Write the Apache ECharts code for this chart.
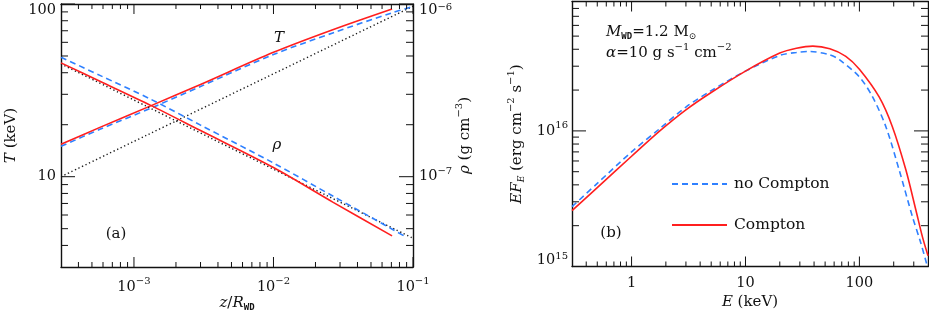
<!DOCTYPE html>
<html><head><meta charset="utf-8">
<script src="https://cdn.jsdelivr.net/npm/echarts@6/dist/echarts.min.js"></script>
<style>html,body{margin:0;padding:0;background:#fff}#c{width:929px;height:314px}</style>
</head><body><div id="c"></div>
<script>
// ---------- Panel (a): T and rho versus z / R_WD ----------
const zTCompton   = [3e-4, 5.7e-4, 1.33e-3, 3e-3, 1e-2, 2.66e-2, 7.08e-2];
const tCompton    = [15.4, 19.3, 25.8, 34.2, 52.5, 71.0, 93.6];
const zTNoCompton = [3e-4, 5.7e-4, 1.33e-3, 3e-3, 1e-2, 2.66e-2, 7.0e-2, 9.7e-2];
const tNoCompton  = [15.0, 18.8, 25.0, 33.3, 51.0, 68.0, 88.7, 96.0];
const zTAnalytic  = [3e-4, 1e-1];
const tAnalytic   = [10, 97];

const zRhoCompton   = [3e-4, 5.7e-4, 1.33e-3, 3e-3, 1e-2, 2.66e-2, 7.08e-2];
const rhoCompton    = [4.56e-7, 3.57e-7, 2.58e-7, 1.85e-7, 1.13e-7, 7.13e-8, 4.54e-8];
const zRhoNoCompton = [3e-4, 5.7e-4, 1.33e-3, 3e-3, 1e-2, 2.66e-2, 7.0e-2, 8.6e-2];
const rhoNoCompton  = [4.92e-7, 3.86e-7, 2.8e-7, 1.99e-7, 1.2e-7, 7.73e-8, 5.0e-8, 4.55e-8];
const zRhoAnalytic  = [3e-4, 1e-1];
const rhoAnalytic   = [4.5e-7, 4.4e-8];

// ---------- Panel (b): spectra ----------
const eCompton   = [0.3, 0.5, 1, 1.77, 3, 5, 10, 20, 28, 39, 55, 76, 100, 149, 195, 256, 313, 357, 400];
const fCompton   = [2.58e15, 3.82e15, 6.5e15, 1.0e16, 1.43e16, 1.92e16, 2.76e16, 3.75e16, 4.07e16, 4.22e16, 4.04e16, 3.55e16, 2.85e16, 1.78e16, 1.07e16, 5.14e15, 2.61e15, 1.66e15, 1.2e15];
const eNoCompton = [0.3, 0.5, 1, 1.77, 3, 5, 10, 20, 28, 36.4, 54.5, 66.7, 100, 130.5, 171, 223.5, 292, 346, 395];
const fNoCompton = [2.76e15, 4.1e15, 7.0e15, 1.04e16, 1.5e16, 1.98e16, 2.76e16, 3.6e16, 3.79e16, 3.85e16, 3.65e16, 3.35e16, 2.5e16, 1.78e16, 1.07e16, 5.14e15, 2.33e15, 1.49e15, 1.0e15];

// ---------- ticks and tick labels ----------
const aXMajor = [1e-3, 1e-2, 1e-1];
const aXMinor = [4e-4,5e-4,6e-4,7e-4,8e-4,9e-4, 2e-3,3e-3,4e-3,5e-3,6e-3,7e-3,8e-3,9e-3, 2e-2,3e-2,4e-2,5e-2,6e-2,7e-2,8e-2,9e-2];
const aTMajor = [10, 100];
const aTMinor = [4,5,6,7,8,9, 20,30,40,50,60,70,80,90];
const aRhoMajor = [1e-7, 1e-6];
const aRhoMinor = [4e-8,5e-8,6e-8,7e-8,8e-8,9e-8, 2e-7,3e-7,4e-7,5e-7,6e-7,7e-7,8e-7,9e-7];
const bXMajor = [1, 10, 100];
const bXMinor = [0.4,0.5,0.6,0.7,0.8,0.9, 2,3,4,5,6,7,8,9, 20,30,40,50,60,70,80,90, 200,300];
const bYMajor = [1e15, 1e16];
const bYMinor = [2e15,3e15,4e15,5e15,6e15,7e15,8e15,9e15, 2e16,3e16,4e16,5e16,6e16,7e16,8e16];

const aXLabels = [1e-3, 1e-2, 1e-1];
const aTLabels = [10];        const aTEdgeLabels = [100];
const aRhoLabels = [1e-7];    const aRhoEdgeLabels = [1e-6];
const bXLabels = [1, 10, 100];
const bYLabels = [1e16];      const bYEdgeLabels = [1e15];

const FONT = 'DejaVu Serif';
const INK = '#111';
const RED = '#ff1f1f';
const BLUE = '#2f80ff';

const base = { fontFamily: FONT, color: INK };
const RICH = {
  b:  Object.assign({ fontSize: 14.5, lineHeight: 18 }, base),
  s:  Object.assign({ fontSize: 10, lineHeight: 10, padding: [0, 0, 11, 0] }, base),
  be: Object.assign({ fontSize: 14.5, lineHeight: 13 }, base),
  se: Object.assign({ fontSize: 10, lineHeight: 6, padding: [0, 0, 7, 0] }, base),
  i:  Object.assign({ fontSize: 15, fontStyle: 'italic', lineHeight: 18 }, base),
  n:  Object.assign({ fontSize: 15, lineHeight: 18 }, base),
  w:  { fontFamily: 'DejaVu Sans Mono', fontSize: 9, fontWeight: 'bold', lineHeight: 9, padding: [9, 0, 0, 0], color: INK },
  e:  Object.assign({ fontSize: 9, fontStyle: 'italic', lineHeight: 9, padding: [9, 0, 0, 0] }, base),
  o:  Object.assign({ fontSize: 9, lineHeight: 9, padding: [9, 0, 0, 0] }, base)
};

const pow10 = v => Math.round(Math.log10(v));
const expStr = v => String(pow10(v)).replace('-', '\u2212');
const fmtPow = v => '{b|10}{s|' + expStr(v) + '}';
const fmtPowEdge = v => '{be|10}{se|' + expStr(v) + '}';

// axis carrying data, frame line, name and labels
function logAxis(o) {
  return {
    type: 'log', logBase: 10, gridIndex: o.grid, position: o.pos, min: o.min, max: o.max,
    name: o.name || '', nameLocation: 'middle', nameGap: o.nameGap || 0, nameRotate: o.nameRotate || 0,
    nameMoveOverlap: false,
    nameTextStyle: { fontFamily: FONT, fontSize: 15, color: INK, rich: RICH },
    axisLine: { show: !!o.line, onZero: false, lineStyle: { color: INK, width: 1.4 } },
    axisTick: { show: false },
    axisLabel: o.labels ? {
      show: true, customValues: o.labels, formatter: o.fmt, margin: o.margin,
      verticalAlign: o.valign, fontFamily: FONT, fontSize: 14.5, color: INK, rich: RICH
    } : { show: false },
    splitLine: { show: false }, minorTick: { show: false }, minorSplitLine: { show: false }
  };
}

const xAxes = [
  logAxis({ grid: 0, pos: 'bottom', min: 3e-4, max: 1e-1, line: true, labels: aXLabels, fmt: fmtPow, margin: 11, valign: 'top',
            name: '{i|z}{n|/}{i|R}{w|WD}', nameGap: 27 }),
  logAxis({ grid: 0, pos: 'top', min: 3e-4, max: 1e-1, line: true }),
  logAxis({ grid: 1, pos: 'bottom', min: 0.3, max: 400, line: true, labels: bXLabels, fmt: v => '{b|' + v + '}', margin: 8, valign: 'top',
            name: '{i|E}{n| (keV)}', nameGap: 27 }),
  logAxis({ grid: 1, pos: 'top', min: 0.3, max: 400, line: true })
];

const yAxes = [
  logAxis({ grid: 0, pos: 'left', min: 3, max: 100, line: true, labels: aTLabels, margin: 5, valign: 'middle',
            fmt: v => '{b|' + Math.round(v) + '}',
            name: '{i|T}{n| (keV)}', nameGap: 41, nameRotate: 90 }),
  logAxis({ grid: 0, pos: 'right', min: 3e-8, max: 1e-6, line: true, labels: aRhoLabels, margin: 6, valign: 'middle',
            fmt: fmtPow,
            name: '{i|\u03c1}{n| (g cm}{s|\u22123}{n|)}', nameGap: 43, nameRotate: 90 }),
  logAxis({ grid: 1, pos: 'left', min: 1e15, max: 9e16, line: true, labels: bYLabels, margin: 4, valign: 'middle',
            fmt: fmtPow,
            name: '{i|EF}{e|E}{n| (erg cm}{s|\u22122}{n| s}{s|\u22121}{n|)}', nameGap: 46, nameRotate: 90 }),
  logAxis({ grid: 1, pos: 'right', min: 1e15, max: 9e16, line: true }),
  // labels sitting on the frame corners: hang them inside the frame's height
  logAxis({ grid: 0, pos: 'left', min: 3, max: 100, labels: aTEdgeLabels, margin: 5, valign: 'top', fmt: v => '{be|' + Math.round(v) + '}' }),
  logAxis({ grid: 0, pos: 'right', min: 3e-8, max: 1e-6, labels: aRhoEdgeLabels, margin: 6, valign: 'top', fmt: fmtPowEdge }),
  logAxis({ grid: 1, pos: 'left', min: 1e15, max: 9e16, labels: bYEdgeLabels, margin: 4, valign: 'bottom', fmt: fmtPowEdge })
];

const pairs = (xs, ys) => xs.map((x, k) => [x, ys[k]]);

function line(name, xi, yi, xs, ys, color, type, width) {
  return {
    name, type: 'line', xAxisIndex: xi, yAxisIndex: yi, data: pairs(xs, ys),
    symbol: 'none', showSymbol: false, smooth: 0.3, silent: true,
    lineStyle: { color, width, type }, itemStyle: { color }, z: 3
  };
}

// inward tick marks of the frame, placed through the axes' own log scales
// dim 'x': ticks on bottom & top edges; dim 'y': ticks on the given sides
function ticks(xi, yi, dim, values, len, anchor, sides) {
  return {
    type: 'custom', xAxisIndex: xi, yAxisIndex: yi, silent: true, z: 5, clip: false,
    data: values.map(v => dim === 'x' ? [v, anchor] : [anchor, v]),
    renderItem: (params, api) => {
      const cs = params.coordSys;
      const p = api.coord([api.value(0), api.value(1)]);
      const st = { stroke: INK, lineWidth: 1 };
      const kids = [];
      if (dim === 'x') {
        const x = p[0];
        const yb = cs.y + cs.height, yt = cs.y;
        kids.push({ type: 'line', shape: { x1: x, y1: yb, x2: x, y2: yb - len }, style: st });
        kids.push({ type: 'line', shape: { x1: x, y1: yt, x2: x, y2: yt + len }, style: st });
      } else {
        const y = p[1];
        const xl = cs.x, xr = cs.x + cs.width;
        if (sides.indexOf('l') >= 0) kids.push({ type: 'line', shape: { x1: xl, y1: y, x2: xl + len, y2: y }, style: st });
        if (sides.indexOf('r') >= 0) kids.push({ type: 'line', shape: { x1: xr, y1: y, x2: xr - len, y2: y }, style: st });
      }
      return { type: 'group', children: kids };
    }
  };
}

const DASH = [6, 4];
const DOT = [1.3, 2.6];

const option = {
  animation: false,
  backgroundColor: '#fff',
  grid: [
    { left: 61, top: 4, width: 352, height: 263, outerBoundsMode: 'none', containLabel: false },
    { left: 572, top: 1.5, width: 356, height: 265, outerBoundsMode: 'none', containLabel: false }
  ],
  xAxis: xAxes,
  yAxis: yAxes,
  legend: {
    data: ['no Compton', 'Compton'], orient: 'vertical', left: 666, top: 171,
    itemWidth: 55, itemHeight: 18, itemGap: 25, selectedMode: false,
    itemStyle: { opacity: 0 },
    textStyle: { fontFamily: FONT, fontSize: 15.5, color: INK, padding: [0, 0, 0, 2] }
  },
  series: [
    line('aTA', 0, 0, zTAnalytic, tAnalytic, '#1a1a1a', DOT, 1.4),
    line('aTN', 0, 0, zTNoCompton, tNoCompton, BLUE, DASH, 1.6),
    line('aTC', 0, 0, zTCompton, tCompton, RED, 'solid', 1.6),
    line('aRA', 0, 1, zRhoAnalytic, rhoAnalytic, '#1a1a1a', DOT, 1.4),
    line('aRN', 0, 1, zRhoNoCompton, rhoNoCompton, BLUE, DASH, 1.6),
    line('aRC', 0, 1, zRhoCompton, rhoCompton, RED, 'solid', 1.6),
    line('no Compton', 2, 2, eNoCompton, fNoCompton, BLUE, DASH, 1.6),
    line('Compton', 2, 2, eCompton, fCompton, RED, 'solid', 1.6),
    // frame ticks
    ticks(0, 0, 'x', aXMajor, 10, 10), ticks(0, 0, 'x', aXMinor, 5, 10),
    ticks(0, 0, 'y', aTMajor, 14, 1e-2, 'l'), ticks(0, 0, 'y', aTMinor, 7, 1e-2, 'l'),
    ticks(0, 1, 'y', aRhoMajor, 14, 1e-2, 'r'), ticks(0, 1, 'y', aRhoMinor, 7, 1e-2, 'r'),
    ticks(2, 2, 'x', bXMajor, 10, 1e16), ticks(2, 2, 'x', bXMinor, 5, 1e16),
    ticks(2, 2, 'y', bYMajor, 14, 10, 'lr'), ticks(2, 2, 'y', bYMinor, 7, 10, 'lr')
  ],
  graphic: [
    { type: 'text', x: 116, y: 234, style: { text: '(a)', font: '15px "DejaVu Serif"', fill: INK, align: 'center', verticalAlign: 'middle' } },
    { type: 'text', x: 611, y: 233, style: { text: '(b)', font: '15px "DejaVu Serif"', fill: INK, align: 'center', verticalAlign: 'middle' } },
    { type: 'text', x: 279, y: 38, style: { text: 'T', font: 'italic 15px "DejaVu Serif"', fill: INK, align: 'center', verticalAlign: 'middle' } },
    { type: 'text', x: 277, y: 145, style: { text: '\u03c1', font: 'italic 15px "DejaVu Serif"', fill: INK, align: 'center', verticalAlign: 'middle' } },
    { type: 'text', x: 606, y: 32, style: { text: '{i|M}{w|WD}{n|=1.2 M}{o|\u2299}', rich: RICH, fill: INK, align: 'left', verticalAlign: 'middle' } },
    { type: 'text', x: 606, y: 53, style: { text: '{i|\u03b1}{n|=10 g s}{s|\u22121}{n| cm}{s|\u22122}', rich: RICH, fill: INK, align: 'left', verticalAlign: 'middle' } }
  ]
};

const chart = echarts.init(document.getElementById('c'), null, { renderer: 'canvas' });
chart.setOption(option);
</script>
</body></html>
